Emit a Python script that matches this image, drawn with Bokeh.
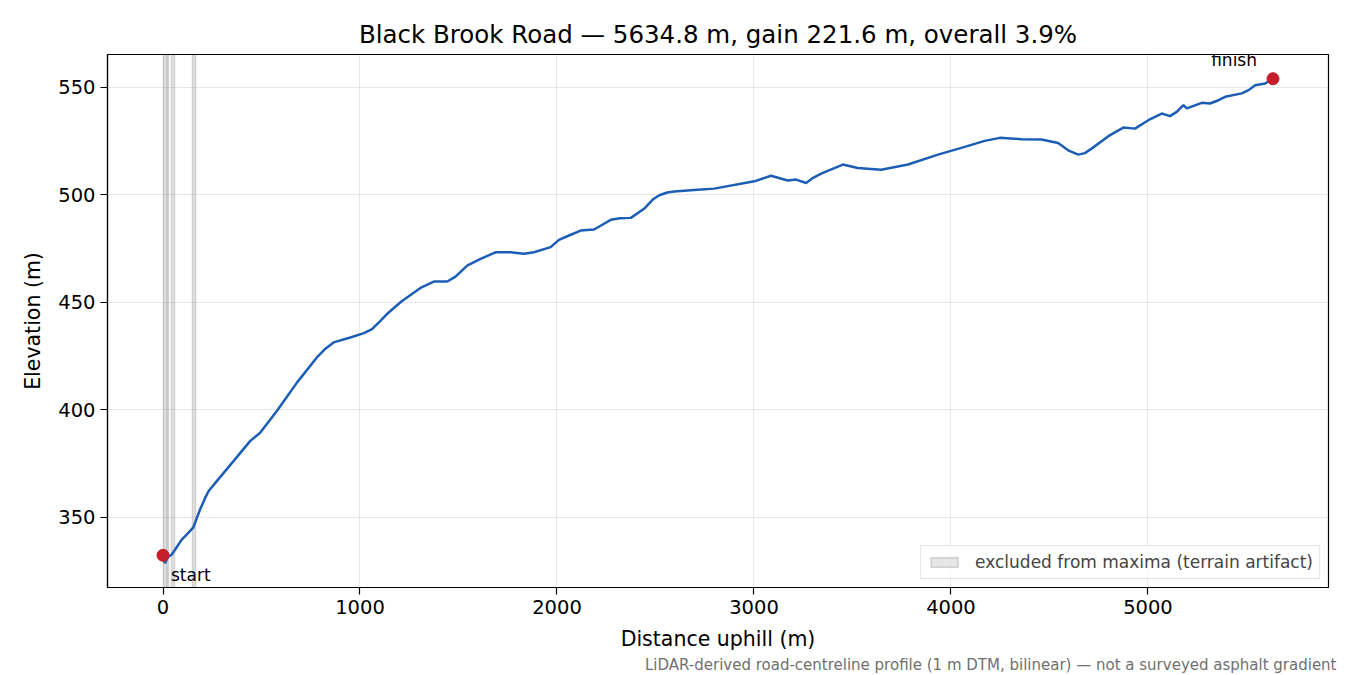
from bokeh.plotting import figure
from bokeh.embed import file_html
from bokeh.resources import INLINE
from bokeh.models import Title, FixedTicker, Range1d
from bokeh.core.properties import value

# profile (distance uphill in m, elevation in m)
distance = [0, 10, 25, 44, 61, 95, 120, 154, 188, 214, 231, 273, 358, 442, 493,
            578, 680, 781, 826, 866, 951, 1020, 1061, 1100, 1137, 1210, 1307,
            1375, 1443, 1485, 1544, 1612, 1688, 1764, 1832, 1883, 1968, 2010,
            2061, 2120, 2188, 2230, 2273, 2320, 2375, 2442, 2490, 2519, 2560,
            2595, 2731, 2798, 3002, 3087, 3171, 3214, 3265, 3300, 3341, 3451,
            3527, 3646, 3782, 3934, 4070, 4171, 4248, 4358, 4460, 4544, 4595,
            4646, 4680, 4714, 4799, 4875, 4934, 5002, 5070, 5112, 5146, 5180,
            5197, 5273, 5315, 5358, 5392, 5476, 5511, 5544, 5595, 5634.8]
elevation = [332.3, 328.6, 331.5, 332.6, 334.9, 339.6, 341.9, 345.3, 353.6,
             359.0, 362.1, 366.8, 376.1, 385.4, 389.3, 399.4, 412.6, 424.3,
             428.5, 431.3, 433.6, 435.6, 437.5, 441.0, 444.5, 450.3, 456.6,
             459.6, 459.6, 461.9, 467.0, 470.1, 473.2, 473.2, 472.5, 473.2,
             475.6, 479.0, 481.0, 483.3, 483.8, 486.0, 488.3, 489.0, 489.2,
             493.4, 498.0, 499.7, 501.0, 501.5, 502.4, 502.8, 506.2, 508.8,
             506.6, 507.0, 505.4, 507.8, 509.8, 514.0, 512.4, 511.6, 514.0,
             518.6, 522.2, 525.0, 526.4, 525.8, 525.6, 524.0, 520.6, 518.6,
             519.3, 521.4, 527.2, 531.2, 530.7, 534.6, 537.7, 536.5, 538.5,
             541.6, 540.1, 542.7, 542.4, 543.9, 545.5, 547.1, 548.6, 550.9,
             551.7, 553.9]

excluded_start = [0, 24, 44, 148]
excluded_end = [18, 30, 56, 166]

x_ticks = [0, 1000, 2000, 3000, 4000, 5000]
y_ticks = [350, 400, 450, 500, 550]

title = "Black Brook Road \u2014 5634.8 m, gain 221.6 m, overall 3.9%"
note = ("LiDAR-derived road-centreline profile (1 m DTM, bilinear) \u2014 "
        "not a surveyed asphalt gradient")

FONT = "DejaVu Sans"

# matplotlib-like 5% padding around the data
xspan = max(distance) - min(distance)
yspan = max(elevation) - min(elevation)
x_range = Range1d(min(distance) - 0.05 * xspan, max(distance) + 0.05 * xspan)
y_range = Range1d(min(elevation) - 0.05 * yspan, max(elevation) + 0.05 * yspan)

p = figure(frame_width=1221, frame_height=533, x_range=x_range, y_range=y_range,
           min_border_left=107, min_border_right=14, min_border_top=54,
           min_border_bottom=80, output_backend="svg", toolbar_location=None)

p.title.text = title
p.title.align = "center"
p.title.text_font = FONT
p.title.text_font_size = "24.5px"
p.title.text_font_style = "normal"
p.title.text_color = "black"
p.title.standoff = 12

p.outline_line_color = "black"
p.outline_line_width = 1.2
p.outline_line_alpha = 1

p.xaxis.ticker = FixedTicker(ticks=x_ticks)
p.yaxis.ticker = FixedTicker(ticks=y_ticks)
p.xaxis.axis_label = "Distance uphill (m)"
p.yaxis.axis_label = "Elevation (m)"
for ax in (p.xaxis, p.yaxis):
    ax.axis_label_text_font = FONT
    ax.axis_label_text_font_size = "20.5px"
    ax.axis_label_text_font_style = "normal"
    ax.axis_label_text_color = "black"
    ax.major_label_text_font = FONT
    ax.major_label_text_font_size = "19.5px"
    ax.major_label_text_color = "black"
    ax.minor_tick_line_color = None
    ax.major_tick_in = 0
    ax.major_tick_out = 7
    ax.major_tick_line_color = "black"
    ax.major_tick_line_width = 1.2
    ax.axis_line_color = "black"
    ax.axis_line_width = 1.2
    ax.major_label_standoff = 5
p.xaxis.axis_label_standoff = 10
p.yaxis.axis_label_standoff = 10

p.grid.grid_line_color = "#b0b0b0"
p.grid.grid_line_alpha = 0.3

p.vstrip(x0=excluded_start, x1=excluded_end, fill_color="gray", fill_alpha=0.2,
         line_color="gray", line_alpha=0.3, line_width=1.5,
         legend_label="excluded from maxima (terrain artifact)")

p.line(distance, elevation, line_color="#1c5db5", line_width=2.5)

p.scatter([distance[0], distance[-1]], [elevation[0], elevation[-1]],
          size=12, fill_color="#c41e2a", line_color="#c41e2a")

p.text([distance[0]], [elevation[0]], text=["start"], x_offset=8, y_offset=10,
       text_baseline="top", text_align="left", text_font_size="17px",
       text_font=value(FONT), text_color="black")
p.text([distance[-1]], [elevation[-1]], text=["finish"], x_offset=-16, y_offset=-9,
       text_baseline="bottom", text_align="right", text_font_size="17px",
       text_font=value(FONT), text_color="black")

p.legend.location = "bottom_right"
p.legend.margin = 8
p.legend.padding = 6
p.legend.spacing = 0
p.legend.glyph_width = 34
p.legend.glyph_height = 12
p.legend.label_text_font = FONT
p.legend.label_text_font_size = "17px"
p.legend.label_standoff = 14
p.legend.border_line_color = "#cccccc"
p.legend.border_line_width = 1.2
p.legend.background_fill_alpha = 0.8

p.add_layout(Title(text=note, align="right", text_font=FONT,
                   text_font_size="15px", text_font_style="normal",
                   text_color="#707070", standoff=0, offset=-8), "below")

open("out.html", "w").write(file_html(p, INLINE))
